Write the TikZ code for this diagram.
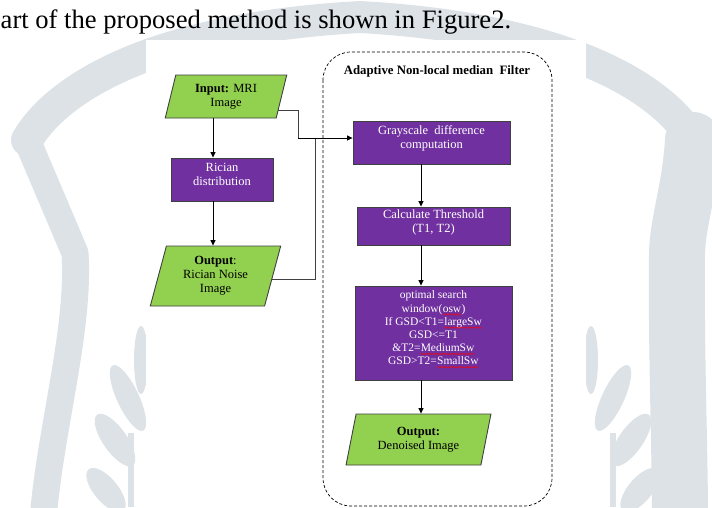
\documentclass[tikz,border=0pt]{standalone}
\usepackage{fontspec}
\setmainfont{Liberation Serif}
\usetikzlibrary{positioning,shapes.geometric,arrows.meta,decorations.pathmorphing}

\definecolor{boxpurple}{RGB}{112,48,160}
\definecolor{boxgreen}{RGB}{146,208,80}
\definecolor{boxedge}{RGB}{64,64,64}
\definecolor{wmark}{RGB}{220,226,230}

% red spell-check wave under a word
\newcommand\squig[1]{\tikz[baseline=(sq.base)]{%
  \node (sq) [shape=rectangle, draw=none, fill=none, inner sep=0pt, outer sep=0pt,
    minimum width=0pt, minimum height=0pt, text depth=0pt, align=left] {#1};
  \draw[red, line width=0.45pt, decorate,
    decoration={snake, amplitude=0.7pt, segment length=2.6pt}]
    ([yshift=-2.2pt]sq.base west) -- ([yshift=-2.2pt]sq.base east);}}

\tikzset{
  procbox/.style={rectangle, draw=boxedge, line width=0.9pt, fill=boxpurple, text=white,
    align=center, font=\fontsize{12.5}{14}\selectfont, inner sep=2pt, text depth=10pt},
  iobox/.style={trapezium, trapezium stretches=true, trapezium left angle=76,
    trapezium right angle=104, draw=boxedge, line width=0.9pt, fill=boxgreen,
    align=center, font=\fontsize{12.5}{14}\selectfont, inner sep=1pt},
  flow/.style={-{Triangle[length=5.5pt,width=5pt]}, black, line width=0.8pt},
  bus/.style={draw=black!75, line width=0.8pt},
  wm/.style={draw=wmark, line join=round, line cap=round},
}

\begin{document}
\begin{tikzpicture}[x=1pt,y=-1pt]
  \useasboundingbox (0,0) rectangle (712,507);
  % watermark behind the figure
  \draw[wm, line width=32pt] (27,140) .. controls (50,100) and (130,30) .. (360,17)
    .. controls (590,30) and (670,100) .. (693,140);
  \draw[wm, line width=27pt] (27,140) -- (75,253) .. controls (80,330) and (50,430) .. (43,520);
  \draw[wm, line width=56pt] (693,140) .. controls (690,190) and (678,220) .. (677,253)
    .. controls (676,350) and (680,450) .. (680,520);
  \fill[wmark] (128,433) rectangle (134,507);
  \fill[wmark] (141,360) ellipse [x radius=7, y radius=34];
  \fill[wmark, rotate around={25:(128,398)}] (128,398) ellipse [x radius=11, y radius=36];
  \fill[wmark, rotate around={35:(115,440)}] (115,440) ellipse [x radius=12, y radius=31];
  \fill[wmark, rotate around={40:(106,490)}] (106,490) ellipse [x radius=12, y radius=27];
  \fill[wmark] (610,433) rectangle (616,507);
  \fill[wmark] (591,360) ellipse [x radius=7, y radius=34];
  \fill[wmark, rotate around={-25:(613,398)}] (613,398) ellipse [x radius=11, y radius=36];
  \fill[wmark, rotate around={-35:(631,440)}] (631,440) ellipse [x radius=12, y radius=31];
  \fill[wmark, rotate around={-40:(640,490)}] (640,490) ellipse [x radius=12, y radius=27];
  \fill[white] (146,40) rectangle (586,507);

  \node (lead) [anchor=base west, inner sep=0pt, font=\fontsize{26.6}{30}\selectfont]
    at (0.5,28) {art of the proposed method is shown in Figure2.};

  % filter frame
  \draw[dashed, dash pattern=on 3pt off 2pt, line width=0.7pt, rounded corners=28pt]
    (323,52) rectangle (552,506);
  \node (filtertitle) [font=\bfseries\fontsize{12.8}{14}\selectfont] at (437,71)
    {Adaptive Non-local median\ \ Filter};

  % left column
  \node (mriin) [iobox, minimum width=122pt, minimum height=43pt] at (226,96.5)
    {\textbf{Input:} MRI\\Image};
  \node (rician) [procbox, minimum width=102pt, minimum height=43pt] at (222,179.5)
    {Rician\\distribution};
  \node (noisyout) [iobox, trapezium left angle=75, trapezium right angle=105,
    minimum width=131pt, minimum height=60pt] at (215.5,276)
    {\textbf{Output}:\\Rician Noise\\Image};

  % right column
  \node (graydiff) [procbox, minimum width=157pt, minimum height=43pt] at (431.5,142.5)
    {Grayscale\ \ difference\\computation};
  \node (thresh) [procbox, minimum width=153pt, minimum height=38pt] at (433.5,226)
    {Calculate Threshold\\(T1, T2)};
  \node (osw) [procbox, font=\fontsize{11.5}{13.2}\selectfont, minimum width=157pt,
    minimum height=94pt] at (433.5,333)
    {optimal search\\window(\squig{osw})\\If GSD<T1=\squig{largeSw}\\GSD<=T1\\
     \&T2=\squig{MediumSw}\\GSD>T2=\squig{SmallSw}};
  \node (denoised) [iobox, minimum width=145pt, minimum height=51pt] at (418.5,439.5)
    {\textbf{Output:}\\Denoised Image};

  \coordinate (leftcol) at (213,0);
  \coordinate (rightcol) at (421,0);
  \coordinate (busA) at (298,138);
  \coordinate (busB) at (315,138);

  \draw[flow] (mriin.south -| leftcol) -- (rician.north -| leftcol);
  \draw[flow] (rician.south -| leftcol) -- (noisyout.north -| leftcol);
  \draw[bus] (mriin.-15) -| (busA);
  \draw[bus] (noisyout.-3) -| (busB);
  \draw[flow] (busA) -- (graydiff.west |- busA);
  \draw[flow] (graydiff.south -| rightcol) -- (thresh.north -| rightcol);
  \draw[flow] (thresh.south -| rightcol) -- (osw.north -| rightcol);
  \draw[flow] (osw.south -| rightcol) -- (denoised.north -| rightcol);
\end{tikzpicture}
\end{document}
